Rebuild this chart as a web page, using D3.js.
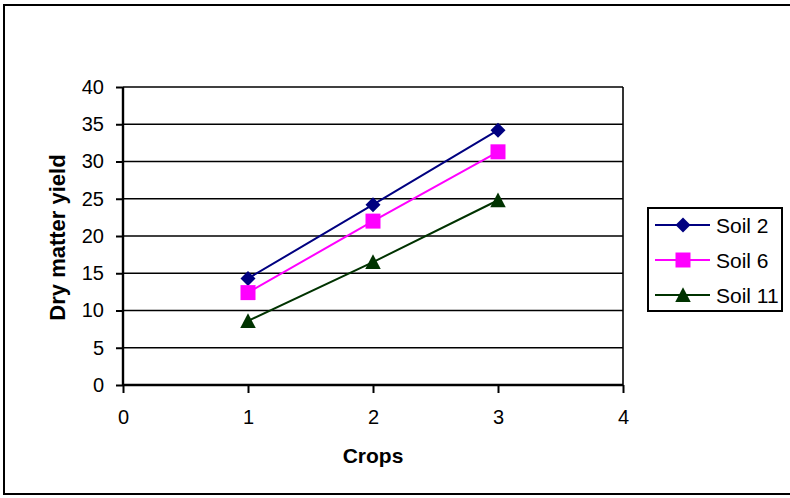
<!DOCTYPE html>
<html><head><meta charset="utf-8">
<script src="https://cdn.jsdelivr.net/npm/d3@7"></script>
<style>html,body{margin:0;padding:0;background:#fff;overflow:hidden}</style>
</head><body>
<svg id="c" width="790" height="498"></svg>
<script>
const crops = [1, 2, 3];
const soil2 = [14.3, 24.2, 34.2];
const soil6 = [12.4, 22.0, 31.3];
const soil11 = [8.6, 16.5, 24.8];
const seriesNames = ["Soil 2", "Soil 6", "Soil 11"];
const xTicks = [0, 1, 2, 3, 4];
const yTicks = [0, 5, 10, 15, 20, 25, 30, 35, 40];

const diamond = {draw(ctx, size) { const r = Math.sqrt(size) / 2; ctx.moveTo(0, -r); ctx.lineTo(r, 0); ctx.lineTo(0, r); ctx.lineTo(-r, 0); ctx.closePath(); }};
const square = {draw(ctx, size) { const r = Math.sqrt(size) / 2; ctx.rect(-r, -r, 2 * r, 2 * r); }};
const triangle = {draw(ctx, size) { const r = Math.sqrt(size) / 2; ctx.moveTo(0, -r); ctx.lineTo(r, r * 0.9); ctx.lineTo(-r, r * 0.9); ctx.closePath(); }};

const series = [
  {name: seriesNames[0], values: soil2, color: "#000080", shape: diamond, size: 225},
  {name: seriesNames[1], values: soil6, color: "#FF00FF", shape: square, size: 225},
  {name: seriesNames[2], values: soil11, color: "#003300", shape: triangle, size: 240}
];

const svg = d3.select("#c");
const font = "'Liberation Sans', Arial, sans-serif";

svg.append("rect").attr("x", 4).attr("y", 5).attr("width", 800).attr("height", 489)
  .attr("fill", "#fff").attr("stroke", "#000").attr("stroke-width", 2);

const L = 123, R = 623, T = 87, B = 385;
const x = d3.scaleLinear().domain([0, 4]).range([L, R]);
const y = d3.scaleLinear().domain([0, 40]).range([B, T]);

// gridlines
svg.append("g").selectAll("line").data(yTicks.filter(d => d > 0)).join("line")
  .attr("x1", L).attr("x2", R).attr("y1", d => y(d)).attr("y2", d => y(d))
  .attr("stroke", "#000").attr("stroke-width", 1.6);
// right border of plot
svg.append("line").attr("x1", R).attr("x2", R).attr("y1", T).attr("y2", B)
  .attr("stroke", "#000").attr("stroke-width", 1.6);

const yAxis = svg.append("g").attr("transform", `translate(${L},0)`)
  .call(d3.axisLeft(y).tickValues(yTicks).tickFormat(d3.format("d")).tickSize(7).tickPadding(12));
const xAxis = svg.append("g").attr("transform", `translate(0,${B})`)
  .call(d3.axisBottom(x).tickValues(xTicks).tickFormat(d3.format("d")).tickSize(8).tickPadding(17));
[yAxis, xAxis].forEach(a => {
  a.select(".domain").attr("stroke", "#000").attr("stroke-width", 2.4);
  a.selectAll(".tick line").attr("stroke", "#000").attr("stroke-width", 2);
  a.selectAll("text").attr("font-family", font).attr("font-size", 20).attr("fill", "#000");
});
xAxis.select(".domain").attr("d", `M${L},0H${R}`);
yAxis.select(".domain").attr("d", `M0,${B}V${T}`);

// axis titles
svg.append("text").attr("x", 373).attr("y", 463).attr("text-anchor", "middle")
  .attr("font-family", font).attr("font-size", 21).attr("font-weight", "bold").text("Crops");
svg.append("text").attr("transform", "translate(65,237.5) rotate(-90)").attr("text-anchor", "middle")
  .attr("font-family", font).attr("font-size", 22).attr("font-weight", "bold").text("Dry matter yield");

// series
const line = d3.line().x((d, i) => x(crops[i])).y(d => y(d));
series.forEach(s => {
  svg.append("path").attr("d", line(s.values)).attr("fill", "none")
    .attr("stroke", s.color).attr("stroke-width", 2);
  svg.append("g").selectAll("path").data(s.values).join("path")
    .attr("transform", (d, i) => `translate(${x(crops[i])},${y(d)})`)
    .attr("d", d3.symbol().type(s.shape).size(s.size)).attr("fill", s.color);
});

// legend
const lg = svg.append("g");
lg.append("rect").attr("x", 648).attr("y", 208).attr("width", 134).attr("height", 103)
  .attr("fill", "#fff").attr("stroke", "#000").attr("stroke-width", 2);
series.forEach((s, i) => {
  const cy = 225 + i * 35;
  lg.append("line").attr("x1", 655).attr("x2", 710).attr("y1", cy).attr("y2", cy)
    .attr("stroke", s.color).attr("stroke-width", 2);
  lg.append("path").attr("transform", `translate(683,${cy})`)
    .attr("d", d3.symbol().type(s.shape).size(s.size)).attr("fill", s.color);
  lg.append("text").attr("x", 716).attr("y", cy + 8).attr("font-family", font)
    .attr("font-size", 21).text(s.name);
});
</script>
</body></html>
